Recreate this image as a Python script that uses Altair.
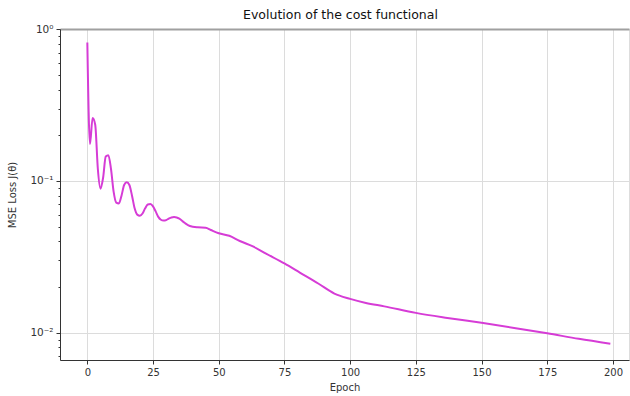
import altair as alt
import pandas as pd

epochs = [0, 1, 2, 3, 4, 5, 6, 7, 8, 9, 10, 11, 12, 13, 14, 15, 16, 17, 18, 19,
          20, 21, 22, 23, 24, 25, 26, 27, 28, 29, 30, 31, 32, 33, 34, 35, 37, 39,
          42, 45, 47, 50, 54, 58, 63, 68, 75, 81, 88, 94, 100, 106, 113, 125,
          137, 150, 163, 175, 187, 199]
loss = [0.82, 0.175, 0.26, 0.235, 0.12, 0.089, 0.105, 0.145, 0.148, 0.12,
        0.085, 0.072, 0.071, 0.08, 0.094, 0.098, 0.094, 0.08, 0.066, 0.06,
        0.059, 0.061, 0.066, 0.070, 0.0705, 0.068, 0.063, 0.058, 0.0555, 0.0548,
        0.0552, 0.0565, 0.0575, 0.0578, 0.0575, 0.0565, 0.053, 0.0505,
        0.0495, 0.0492, 0.0475, 0.0452, 0.0435, 0.0402, 0.0370, 0.0332,
        0.0286, 0.0248, 0.021, 0.0181, 0.0167, 0.0157, 0.0149, 0.0135,
        0.0125, 0.0116, 0.0107, 0.0099, 0.0091, 0.00845]

x_ticks = [0, 25, 50, 75, 100, 125, 150, 175, 200]
y_ticks = [0.007, 0.008, 0.009,
           0.01, 0.02, 0.03, 0.04, 0.05, 0.06, 0.07, 0.08, 0.09,
           0.1, 0.2, 0.3, 0.4, 0.5, 0.6, 0.7, 0.8, 0.9, 1.0]

df = pd.DataFrame({"Epoch": epochs, "Loss": loss})

FONT = "DejaVu Sans"
is_major = "datum.value == 1 || datum.value == 0.1 || datum.value == 0.01"

x_scale = alt.Scale(domain=[-10.4, 206.1], nice=False, zero=False)
y_scale = alt.Scale(type="log", domain=[0.0066, 1.005], nice=False)

line = alt.Chart(df).mark_line(
    color="#d63cd6", strokeWidth=2, interpolate="monotone"
).encode(
    x=alt.X("Epoch:Q", scale=x_scale,
            axis=alt.Axis(values=x_ticks, title="Epoch", grid=True,
                          gridColor="#dcdcdc", gridWidth=1,
                          domainColor="#333333", tickColor="#333333",
                          tickSize=4, labelPadding=3, titlePadding=5,
                          labelFontSize=10, titleFontSize=10,
                          labelColor="#333333", titleColor="#333333",
                          labelFont=FONT, titleFont=FONT,
                          titleFontWeight="normal")),
    y=alt.Y("Loss:Q", scale=y_scale,
            axis=alt.Axis(values=y_ticks, title="MSE Loss J(θ)",
                          labelExpr="datum.value == 1 ? '10⁰' : datum.value == 0.1 ? '10⁻¹' : datum.value == 0.01 ? '10⁻²' : ''",
                          tickSize={"condition": {"test": is_major, "value": 4}, "value": 2},
                          gridOpacity={"condition": {"test": is_major, "value": 1}, "value": 0},
                          gridColor="#dcdcdc", gridWidth=1,
                          domainColor="#333333", tickColor="#333333",
                          labelOverlap=False, labelPadding=3, titlePadding=12,
                          labelFontSize=10.5, titleFontSize=10,
                          labelColor="#333333", titleColor="#333333",
                          labelFont=FONT, titleFont=FONT,
                          titleFontWeight="normal")),
)

top = alt.Chart(df).mark_line(opacity=0).encode(
    x=alt.X("Epoch:Q", scale=x_scale,
            axis=alt.Axis(orient="top", title=None, labels=False, ticks=False,
                          grid=False, domainColor="#a0a0a0", domainWidth=2)),
    y=alt.Y("Loss:Q", scale=y_scale, axis=None),
)

chart = alt.layer(line, top).resolve_axis(x="independent", y="independent").properties(
    width=569, height=331,
    title=alt.TitleParams("Evolution of the cost functional", font=FONT,
                          fontSize=12.5, fontWeight="normal", color="#111111",
                          offset=3, dx=-4),
    autosize=alt.AutoSizeParams(type="none"),
    padding={"left": 60, "top": 29, "right": 1, "bottom": 36},
).configure_view(stroke=None).configure(background="white")

chart.save("out.html", embed_options={"renderer": "svg", "actions": False})
